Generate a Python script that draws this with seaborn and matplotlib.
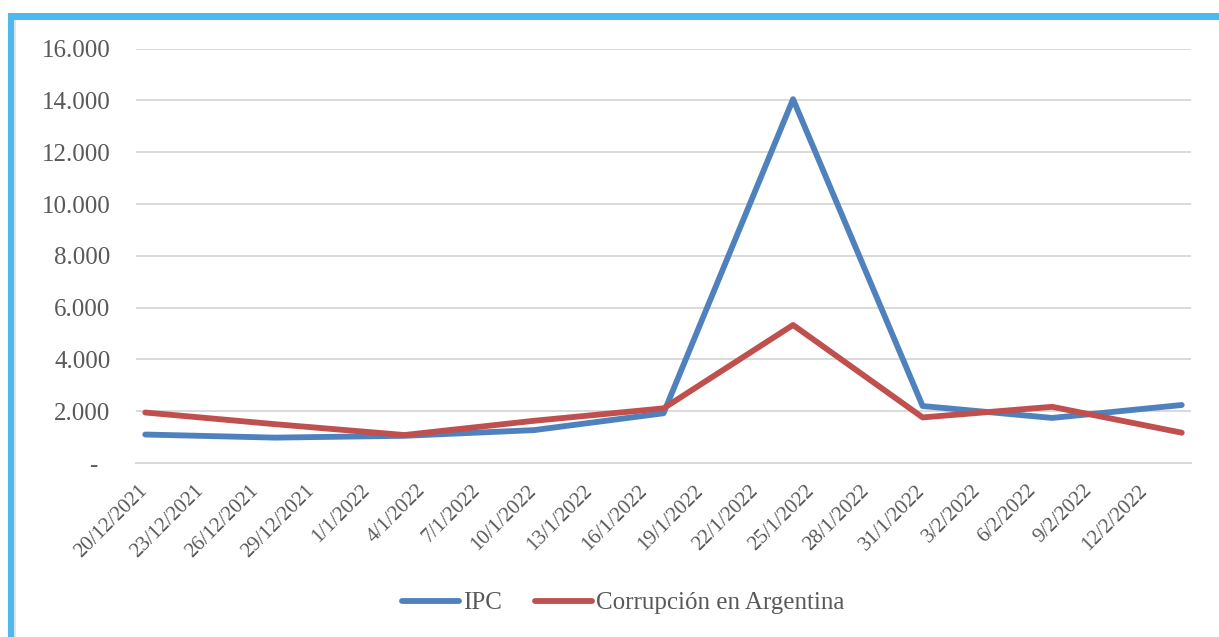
import matplotlib
matplotlib.use("Agg")
import matplotlib.pyplot as plt
import matplotlib.transforms as mtransforms
from matplotlib.patches import Rectangle
from matplotlib.ticker import FuncFormatter, FixedLocator
import seaborn as sns
import pandas as pd

# ---------------- data ----------------
dates = ["20/12/2021", "27/12/2021", "3/1/2022", "10/1/2022", "17/1/2022",
         "24/1/2022", "31/1/2022", "7/2/2022", "14/2/2022"]
ipc = [1100, 980, 1050, 1270, 1920, 14050, 2200, 1740, 2240]
corrupcion = [1950, 1500, 1080, 1630, 2110, 5330, 1760, 2170, 1170]
series_names = ["IPC", "Corrupción en Argentina"]
tick_labels = ["20/12/2021", "23/12/2021", "26/12/2021", "29/12/2021", "1/1/2022",
               "4/1/2022", "7/1/2022", "10/1/2022", "13/1/2022", "16/1/2022",
               "19/1/2022", "22/1/2022", "25/1/2022", "28/1/2022", "31/1/2022",
               "3/2/2022", "6/2/2022", "9/2/2022", "12/2/2022"]
y_ticks = [0, 2000, 4000, 6000, 8000, 10000, 12000, 14000, 16000]

# ---------------- style ----------------
sns.set_theme(style="white")
plt.rcParams["font.family"] = ["Liberation Serif", "DejaVu Serif"]
TEXT = "#595959"
GRID = "#d9d9d9"
BLUE = "#4f81bd"
RED = "#c0504d"
FRAME = "#4db9ec"

W, H = 1219, 637
fig = plt.figure(figsize=(W / 100, H / 100), dpi=100)
fig.patch.set_facecolor("white")
ax = fig.add_axes([136 / W, 1 - 463 / H, (1191 - 136) / W, (463 - 48.7) / H])

# Excel places date points in the middle of their day slot
x_dates = pd.to_datetime(dates, dayfirst=True) + pd.Timedelta(hours=12)
df = pd.DataFrame({
    "Fecha": list(x_dates) * 2,
    "Valor": ipc + corrupcion,
    "Serie": [series_names[0]] * len(dates) + [series_names[1]] * len(dates),
})

LW = 4.2
sns.lineplot(data=df, x="Fecha", y="Valor", hue="Serie", hue_order=series_names,
             palette=[BLUE, RED], linewidth=LW, ax=ax, sort=False)
for ln in ax.lines:
    ln.set_solid_capstyle("round")
    ln.set_solid_joinstyle("round")

# ---------------- axes ----------------
tick_dates = list(pd.to_datetime(tick_labels, dayfirst=True))
end_date = tick_dates[-1] + pd.Timedelta(days=3)
all_ticks = tick_dates + [end_date]
ax.set_xlim(tick_dates[0], end_date)
ax.set_xticks(all_ticks)

ax.set_ylim(0, 16000)
ax.yaxis.set_major_locator(FixedLocator(y_ticks))
ax.yaxis.set_major_formatter(FuncFormatter(
    lambda v, p: "-  " if v == 0 else f"{int(v):,}".replace(",", ".")))
ax.tick_params(axis="y", length=0, pad=18.5, labelsize=18, labelcolor=TEXT)
ax.tick_params(axis="x", direction="out", length=6, width=1.4, color=GRID,
               pad=12, labelcolor=TEXT)

ax.set_xticklabels(tick_labels + [""], rotation=45, ha="right", va="center",
                   rotation_mode="anchor", fontsize=15, color=TEXT)
offset = mtransforms.ScaledTranslation(9 / 100, 0, fig.dpi_scale_trans)
for lbl in ax.get_xticklabels():
    lbl.set_transform(lbl.get_transform() + offset)

ax.yaxis.grid(True, color=GRID, linewidth=1.4)
ax.xaxis.grid(False)
ax.set_axisbelow(True)
for side in ["top", "right", "left"]:
    ax.spines[side].set_visible(False)
ax.spines["bottom"].set_color(GRID)
ax.spines["bottom"].set_linewidth(1.4)
ax.set_xlabel("")
ax.set_ylabel("")

# ---------------- legend ----------------
handles, labels = ax.get_legend_handles_labels()
ax.get_legend().remove()
for h in handles:
    h.set_linewidth(LW)
    h.set_solid_capstyle("round")
leg = fig.legend(handles, labels, loc="center",
                 bbox_to_anchor=(623 / W, 1 - 603 / H), ncol=2, frameon=False,
                 fontsize=18, handlelength=2.3, handletextpad=0.15,
                 columnspacing=1.3)
for t in leg.get_texts():
    t.set_color(TEXT)

# ---------------- frame decoration ----------------
fig.add_artist(Rectangle((8 / W, 1 - 20 / H), 1 - 8 / W, 6.5 / H,
                         transform=fig.transFigure, facecolor=FRAME,
                         edgecolor="none", zorder=5))
fig.add_artist(Rectangle((8 / W, 0), 6 / W, 1 - 13.5 / H,
                         transform=fig.transFigure, facecolor=FRAME,
                         edgecolor="none", zorder=5))
fig.add_artist(Rectangle((14 / W, 0), 2 / W, 1 - 20 / H,
                         transform=fig.transFigure, facecolor="#e3e3e3",
                         edgecolor="none", zorder=4))

fig.savefig("out.png", dpi=100, facecolor="white")
